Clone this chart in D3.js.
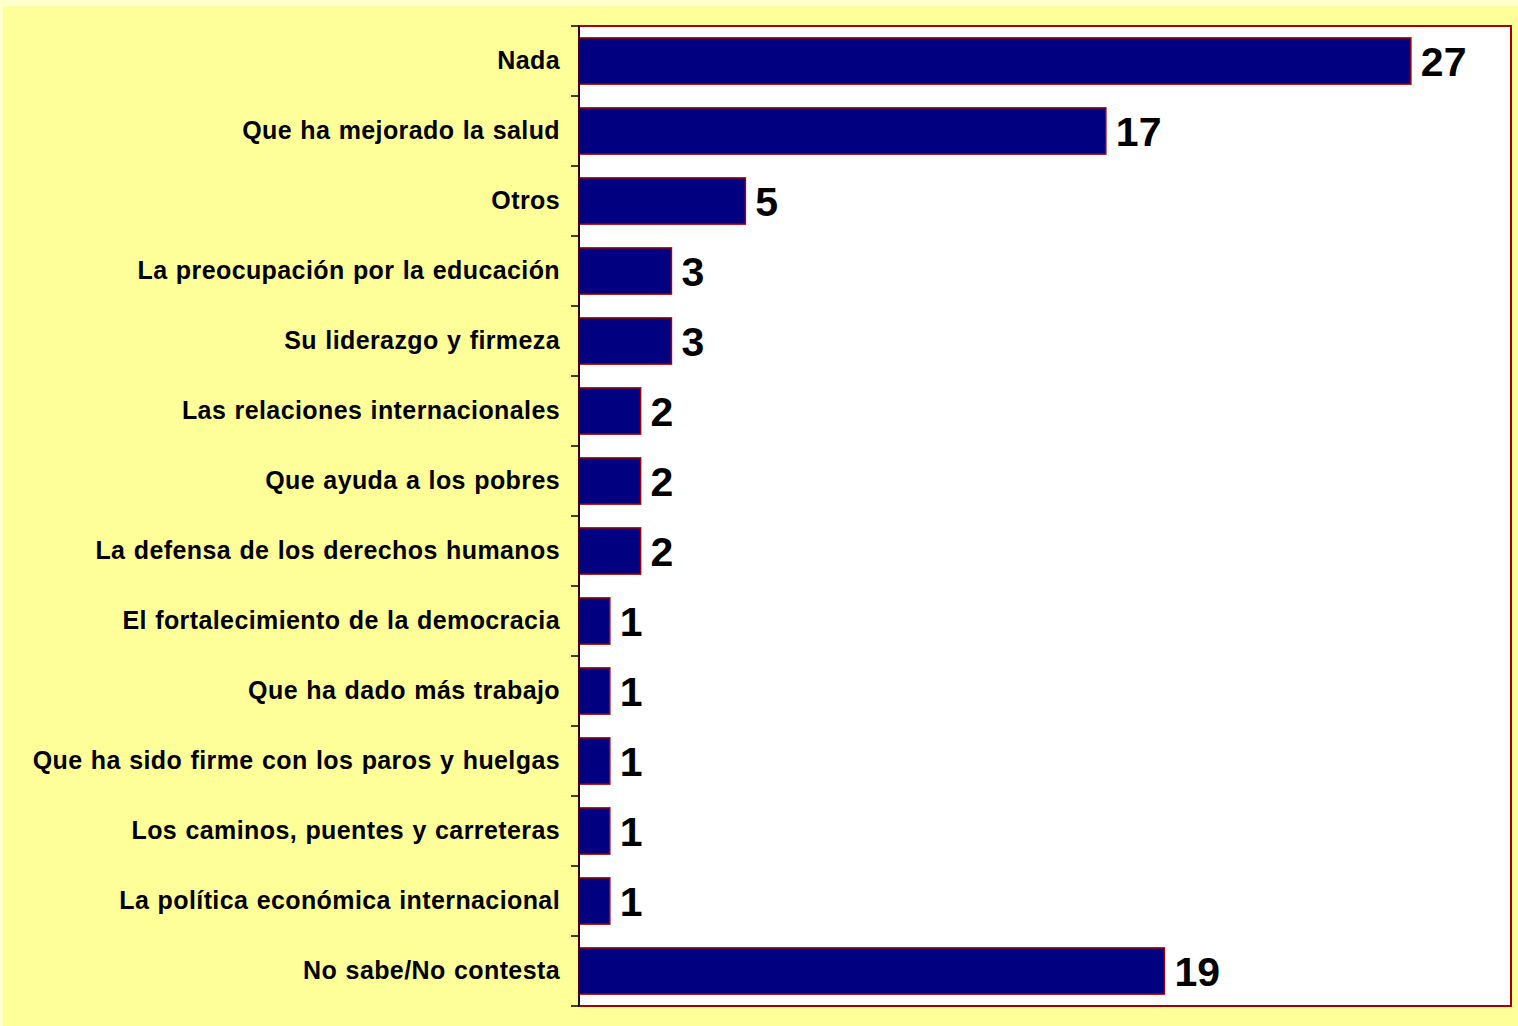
<!DOCTYPE html>
<html><head><meta charset="utf-8">
<script src="https://cdn.jsdelivr.net/npm/d3@7"></script>
<style>html,body{margin:0;padding:0;background:#FFFFCC;}svg{display:block;}</style>
</head><body>
<script>
const categories = ["Nada","Que ha mejorado la salud","Otros","La preocupación por la educación","Su liderazgo y firmeza","Las relaciones internacionales","Que ayuda a los pobres","La defensa de los derechos humanos","El fortalecimiento de la democracia","Que ha dado más trabajo","Que ha sido firme con los paros y huelgas","Los caminos, puentes y carreteras","La política económica internacional","No sabe/No contesta"];
const values = [27.0, 17.1, 5.4, 3.0, 3.0, 2.0, 2.0, 2.0, 1.0, 1.0, 1.0, 1.0, 1.0, 19.0];
const valueLabels = ["27","17","5","3","3","2","2","2","1","1","1","1","1","19"];

const W = 1518, H = 1026;
const svg = d3.select("body").append("svg").attr("width", W).attr("height", H);
svg.append("rect").attr("x",0).attr("y",0).attr("width",W).attr("height",H).attr("fill","#FFFFCC");
svg.append("rect").attr("x",3).attr("y",6).attr("width",W-3).attr("height",H-6).attr("fill","#FFFF99");

const m = {left:579, top:26, right:1511, bottom:1006};
const x = d3.scaleLinear().domain([0, 30.25]).range([m.left, m.right]);
const y = d3.scaleBand().domain(categories).range([m.top, m.bottom]).paddingInner(0.34).paddingOuter(0.17);

svg.append("rect").attr("x",m.left).attr("y",m.top).attr("width",m.right-m.left).attr("height",m.bottom-m.top)
  .attr("fill","#FFFFFF").attr("stroke","#A00000").attr("stroke-width",2);

svg.selectAll("rect.bar").data(categories).enter().append("rect").attr("class","bar")
  .attr("x", x(0)).attr("y", d=>y(d)).attr("width", (d,i)=>x(values[i])-x(0)).attr("height", y.bandwidth())
  .attr("fill","#000080").attr("stroke","#A00000").attr("stroke-width",1.5);

// category axis with ticks between categories
const step = (m.bottom - m.top)/categories.length;
const g = svg.append("g");
g.append("line").attr("x1",m.left).attr("x2",m.left).attr("y1",m.top).attr("y2",m.bottom).attr("stroke","#400000").attr("stroke-width",2);
d3.range(categories.length+1).forEach(i=>{
  g.append("line").attr("x1",m.left-8).attr("x2",m.left).attr("y1",m.top+i*step).attr("y2",m.top+i*step).attr("stroke","#000").attr("stroke-width",1.5);
});

svg.selectAll("text.cat").data(categories).enter().append("text").attr("class","cat")
  .attr("x", 560).attr("y", d=>y(d)+y.bandwidth()/2 - 1).attr("dy","0.36em")
  .attr("text-anchor","end").attr("font-family","Liberation Sans, Arial, sans-serif")
  .attr("font-weight","bold").attr("font-size",25).attr("letter-spacing","0.4px").attr("word-spacing","1px").attr("fill","#000").text(d=>d);

svg.selectAll("text.val").data(categories).enter().append("text").attr("class","val")
  .attr("x", (d,i)=>x(values[i])+10).attr("y", d=>y(d)+y.bandwidth()/2).attr("dy","0.36em")
  .attr("font-family","Liberation Sans, Arial, sans-serif").attr("font-weight","bold").attr("font-size",41)
  .attr("fill","#000").text((d,i)=>valueLabels[i]);
</script>
</body></html>
